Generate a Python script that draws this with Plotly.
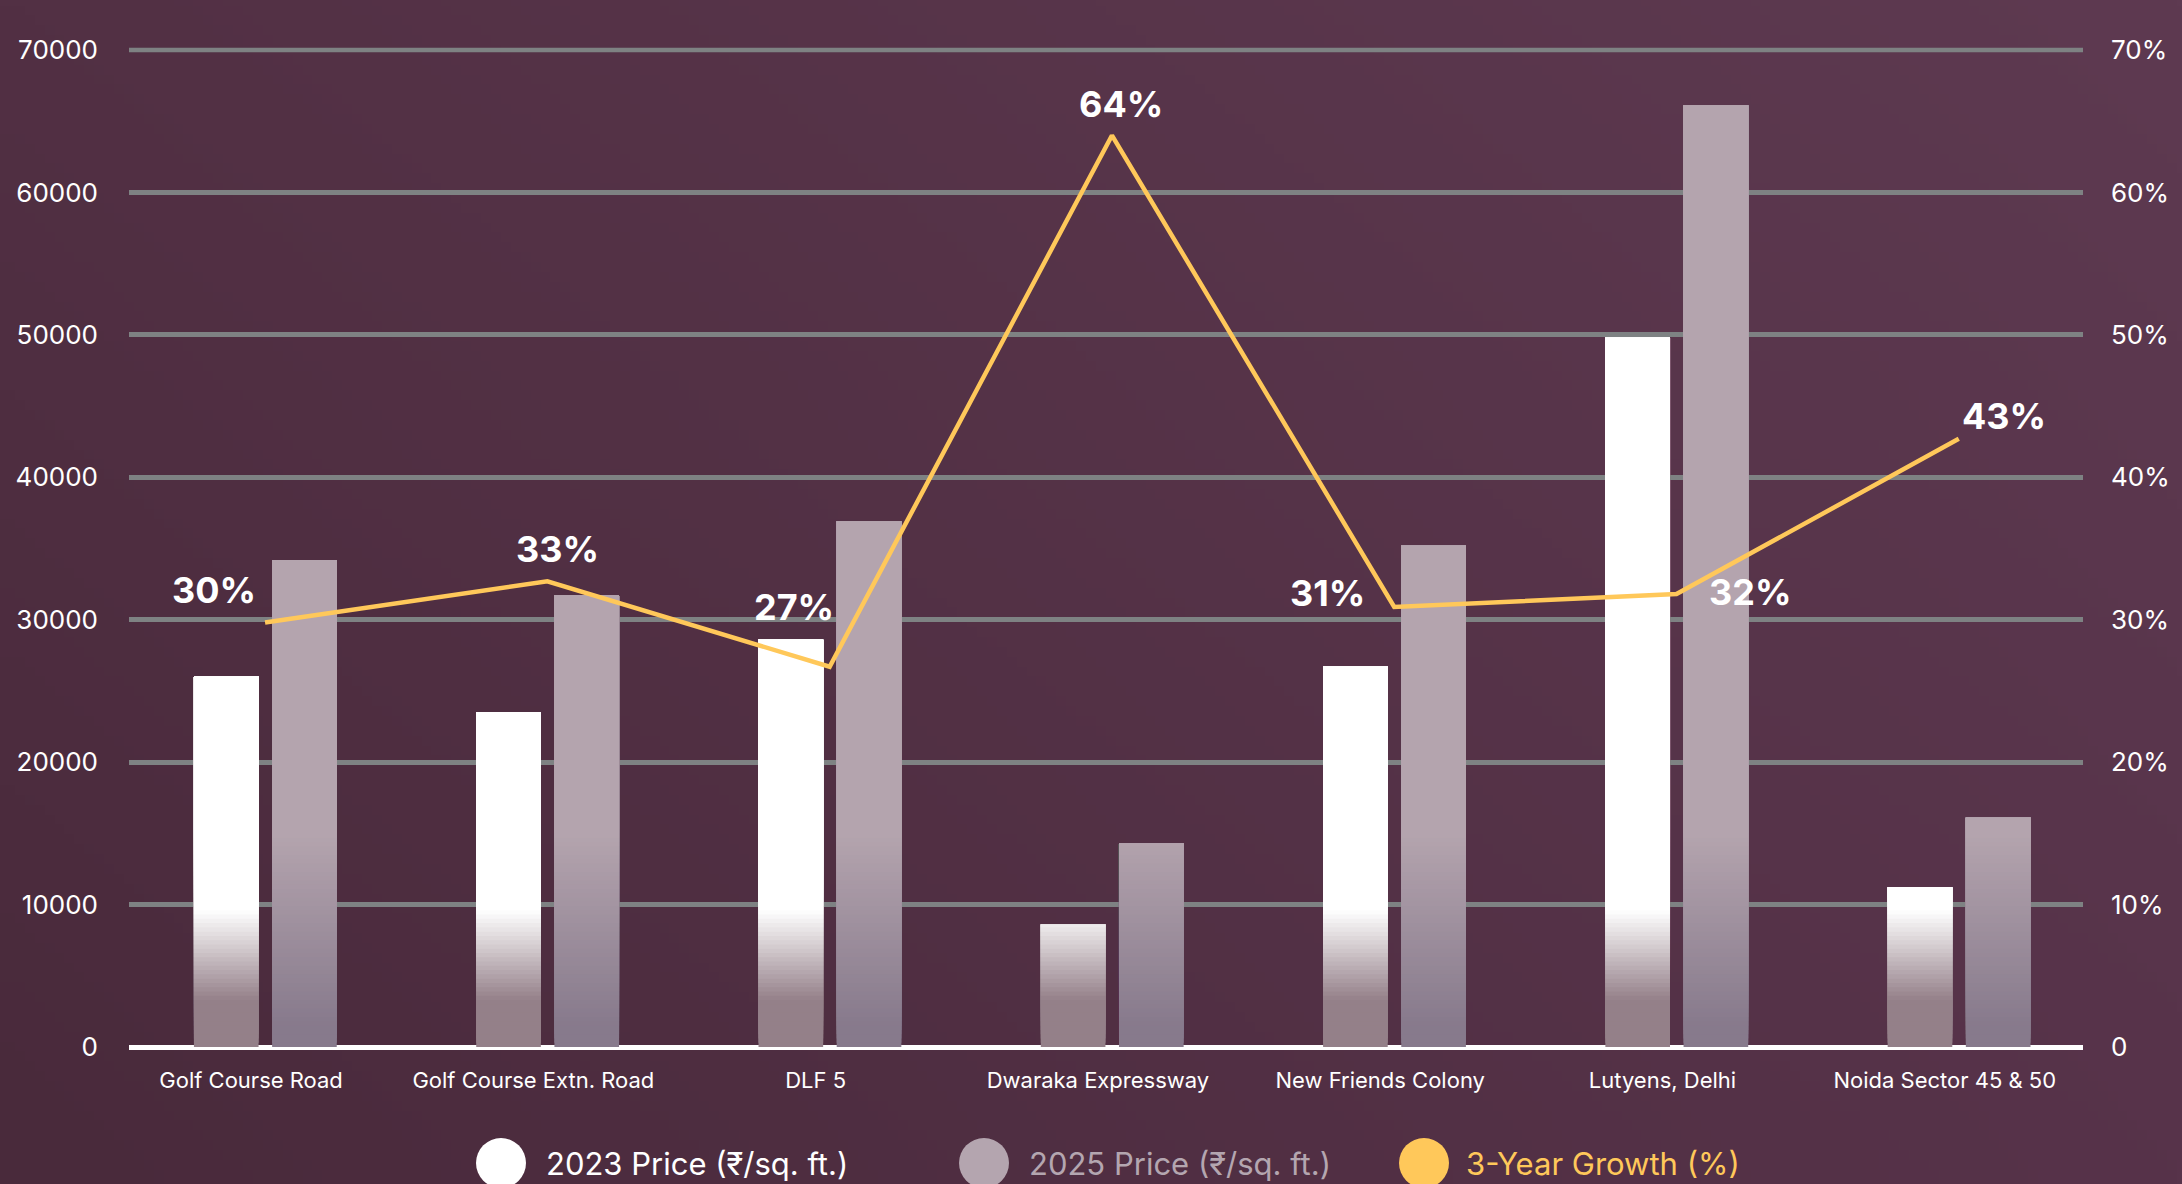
import zlib, struct, base64
import numpy as np
import plotly.graph_objects as go

# ---------------- data ----------------
categories = ["Golf Course Road", "Golf Course Extn. Road", "DLF 5", "Dwaraka Expressway",
              "New Friends Colony", "Lutyens, Delhi", "Noida Sector 45 & 50"]
price_2023 = [26000, 23500, 28600, 8600, 26700, 49800, 11200]
price_2025 = [34200, 31700, 36900, 14300, 35200, 66100, 16100]
growth_pct = [29.8, 32.7, 26.7, 64.0, 30.9, 31.8, 42.7]
growth_labels = ["30%", "33%", "27%", "64%", "31%", "32%", "43%"]
left_ticks = [0, 10000, 20000, 30000, 40000, 50000, 60000, 70000]
right_ticks = [0, 10, 20, 30, 40, 50, 60, 70]
right_ticktext = ["0", "10%", "20%", "30%", "40%", "50%", "60%", "70%"]
legend_names = ["2023 Price (₹/sq. ft.)", "2025 Price (₹/sq. ft.)", "3-Year Growth (%)"]

# ---------------- geometry / style ----------------
W, H = 2182, 1184
ML, MR, MT, MB = 129, 99, 50, 137
PW, PH = W - ML - MR, H - MT - MB
FONT = "Inter"
GRID_COL = "#7e8283"
GRID_W = 4.5

def px_x(p):
    return (p - ML) / PW

def px_y(p):
    return (MT + PH - p) / PH

# background gradient png
def make_png(arr):
    h, w, _ = arr.shape
    raw = b"".join(b"\x00" + arr[i].tobytes() for i in range(h))
    def chunk(t, d):
        c = struct.pack(">I", len(d)) + t + d
        return c + struct.pack(">I", zlib.crc32(t + d) & 0xffffffff)
    return (b"\x89PNG\r\n\x1a\n" + chunk(b"IHDR", struct.pack(">IIBBBBB", w, h, 8, 2, 0, 0, 0))
            + chunk(b"IDAT", zlib.compress(raw, 9)) + chunk(b"IEND", b""))

gw, gh = 220, 120
TL = np.array([82, 48, 68.]); TR = np.array([94, 58, 81.])
BL = np.array([73, 42, 59.]); BR = np.array([87, 51, 74.])
u = np.linspace(0, 1, gw)[None, :, None]
v = np.linspace(0, 1, gh)[:, None, None]
img = (TL * (1 - u) * (1 - v) + TR * u * (1 - v) + BL * (1 - u) * v + BR * u * v)
img = np.clip(img, 0, 255).astype(np.uint8)
bg_uri = "data:image/png;base64," + base64.b64encode(make_png(img)).decode()

def lerp_col(c0, c1, t):
    t = min(max(t, 0), 1)
    return "rgb(%d,%d,%d)" % tuple(round(a + (b - a) * t) for a, b in zip(c0, c1))

def color_2023(val):
    return lerp_col((148, 128, 137), (255, 255, 255), (val - 3300) / (9600 - 3300))

def color_2025(val):
    return lerp_col((135, 122, 140), (180, 164, 174), (val - 1500) / (15000 - 1500))

BAR_W = 0.229
OFF_2023 = -0.252
OFF_2025 = 0.025

fig = go.Figure()

# each bar is painted as nested layers (from base b up to the value) so the
# vertical colour fade of the reference is reproduced without seams
step = 300
bounds = list(range(0, 15600, step))
for series, colfn, off in [(price_2023, color_2023, OFF_2023), (price_2025, color_2025, OFF_2025)]:
    for b in bounds:
        heights = [max(val - b, 0) for val in series]
        fig.add_trace(go.Bar(x=categories, y=heights, base=[b] * len(series),
                             width=BAR_W, offset=off,
                             marker=dict(color=colfn(b + step / 2), line=dict(width=0)),
                             showlegend=False, hoverinfo="skip"))

fig.add_trace(go.Scatter(x=categories, y=growth_pct, yaxis="y2", mode="lines",
                         line=dict(color="#ffc85a", width=4.5), showlegend=False,
                         hoverinfo="skip"))

# data labels for growth
label_shift = [(-51, 33), (10, 32), (-36, 60), (9, 31), (-67, 14), (73, 2), (45, 23)]
for cat, g, txt, (dx, dy) in zip(categories, growth_pct, growth_labels, label_shift):
    fig.add_annotation(x=cat, y=g, xref="x", yref="y2", text="<b>%s</b>" % txt,
                       showarrow=False, xshift=dx, yshift=dy,
                       font=dict(family=FONT, size=36, color="white"))

# top gridline (plotly skips a gridline sitting exactly on the range edge)
fig.add_shape(type="line", xref="paper", yref="paper", x0=0, x1=1, y0=1, y1=1,
              line=dict(color=GRID_COL, width=GRID_W), layer="below")

# manual legend
leg = [(501, "#ffffff", "#ffffff", 544), (984, "#b4a5af", "#b4a6b0", 1027), (1424, "#ffc85a", "#ffc85a", 1464)]
LEG_Y = 1163
R = 25
for (cx, ccol, tcol, tx), name in zip(leg, legend_names):
    fig.add_shape(type="circle", xref="paper", yref="paper",
                  x0=px_x(cx - R), x1=px_x(cx + R), y0=px_y(LEG_Y + R), y1=px_y(LEG_Y - R),
                  fillcolor=ccol, line=dict(width=0))
    fig.add_annotation(xref="paper", yref="paper", x=px_x(tx), y=px_y(LEG_Y),
                       xanchor="left", yanchor="middle", text=name, showarrow=False,
                       font=dict(family=FONT, size=31, color=tcol))

fig.update_layout(
    width=W, height=H,
    margin=dict(l=ML, r=MR, t=MT, b=MB, pad=0),
    paper_bgcolor="rgb(80,46,66)",
    plot_bgcolor="rgba(0,0,0,0)",
    barmode="overlay",
    showlegend=False,
    images=[dict(source=bg_uri, xref="paper", yref="paper",
                 x=px_x(0), y=px_y(0), sizex=W / PW, sizey=H / PH,
                 xanchor="left", yanchor="top", sizing="stretch", layer="below")],
    xaxis=dict(type="category", range=[-0.482, 6.44], showgrid=False, showline=False,
               zeroline=False, ticks="", tickfont=dict(family=FONT, size=22, color="white"),
               ticklabelshift=-14, ticklabelstandoff=18, fixedrange=True),
    yaxis=dict(range=[0, 70000], tickvals=left_ticks, tickformat="d",
               showgrid=True, gridcolor=GRID_COL, gridwidth=GRID_W,
               zeroline=True, zerolinecolor="white", zerolinewidth=4.5,
               showline=False, ticks="", ticklabelstandoff=30,
               tickfont=dict(family=FONT, size=26, color="white")),
    yaxis2=dict(range=[0, 70], overlaying="y", side="right", tickvals=right_ticks,
                ticktext=right_ticktext, showgrid=False, zeroline=False, showline=False,
                ticks="", ticklabelstandoff=27,
                tickfont=dict(family=FONT, size=26, color="white")),
)

fig.write_html("out.html", config={"displayModeBar": False},
               post_script="document.body.style.margin='0';document.body.style.overflow='hidden';")
